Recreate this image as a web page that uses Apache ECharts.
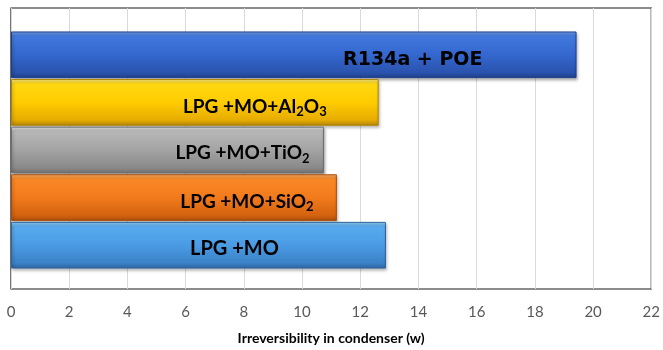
<!DOCTYPE html>
<html>
<head>
<meta charset="utf-8">
<script src="https://cdn.jsdelivr.net/npm/echarts@6/dist/echarts.min.js"></script>
<style>html,body{margin:0;padding:0;background:#fff}#c{width:663px;height:350px}</style>
</head>
<body>
<div id="c"></div>
<script>
// Data
const categories = ['R134a + POE', 'LPG +MO+Al{sub|2}O{sub|3}', 'LPG +MO+TiO{sub|2}', 'LPG +MO+SiO{sub|2}', 'LPG +MO'];
const values = [19.35, 12.58, 10.71, 11.15, 12.83];
const xTicks = { min: 0, max: 22, interval: 2 };
const axisTitle = 'Irreversibility in condenser (w)';

// Styles (not data)
const palettes = [
  ['#7aa4f2', '#4279de', '#3467cf', '#2a53ad', '#1e3f88'],
  ['#fff28a', '#ffd810', '#ffcc00', '#e6ac00', '#b08400'],
  ['#ececec', '#b8b8b8', '#a3a3a3', '#8a8a8a', '#6e6e6e'],
  ['#ffb56a', '#fa8826', '#f27a1b', '#d4630f', '#a84d0a'],
  ['#9ad6fa', '#58abee', '#4a9be4', '#3b82c8', '#2d659e']
];
const labelShift = [[119, 5], [60, 4], [75, 3], [73, 4], [36, 3]];
const labelFonts = [
  { fontFamily: 'DejaVu Sans', fontSize: 19 },
  { fontFamily: 'Lato', fontSize: 19 },
  { fontFamily: 'Lato', fontSize: 19 },
  { fontFamily: 'Lato', fontSize: 19 },
  { fontFamily: 'Lato', fontSize: 20 }
];

const chart = echarts.init(document.getElementById('c'), null, { renderer: 'canvas' });

const seriesData = values.map((v, i) => {
  const p = palettes[i];
  return {
    value: v,
    itemStyle: {
      color: new echarts.graphic.LinearGradient(0, 0, 0, 1, [
        { offset: 0, color: p[0] },
        { offset: 0.1, color: p[1] },
        { offset: 0.5, color: p[2] },
        { offset: 0.88, color: p[3] },
        { offset: 1, color: p[4] }
      ]),
      borderColor: p[4],
      borderWidth: 1,
      shadowColor: 'rgba(0,0,0,0.35)',
      shadowBlur: 3,
      shadowOffsetX: 1,
      shadowOffsetY: 2
    },
    label: {
      show: true,
      position: 'inside',
      offset: labelShift[i],
      formatter: categories[i],
      color: '#000',
      fontWeight: 'bold',
      fontFamily: labelFonts[i].fontFamily,
      fontSize: labelFonts[i].fontSize,
      lineHeight: 24,
      rich: {
        sub: {
          fontFamily: 'Lato',
          fontWeight: 'bold',
          fontSize: 13,
          lineHeight: 24,
          verticalAlign: 'bottom',
          color: '#000'
        }
      }
    }
  };
});

chart.setOption({
  animation: false,
  backgroundColor: '#fff',
  grid: [
    { left: 11, right: 9, top: 8, bottom: 58, show: true, borderColor: '#1a1a1a', borderWidth: 1.2, backgroundColor: 'transparent', z: 0 },
    { left: 11, right: 9, top: 31, bottom: 81 }
  ],
  xAxis: [
    {
      gridIndex: 0, type: 'value', min: xTicks.min, max: xTicks.max, interval: xTicks.interval,
      axisLine: { show: false }, axisTick: { show: false },
      splitLine: { show: true, lineStyle: { color: '#d9d9d9', width: 1 } },
      axisLabel: { color: '#595959', fontFamily: 'Lato', fontSize: 15, margin: 16 },
      name: axisTitle, nameLocation: 'middle', nameGap: 42,
      nameTextStyle: { color: '#000', fontFamily: 'Lato', fontWeight: 'bold', fontSize: 14 }
    },
    {
      gridIndex: 1, type: 'value', min: xTicks.min, max: xTicks.max, interval: xTicks.interval,
      show: false
    }
  ],
  yAxis: [
    { gridIndex: 0, type: 'value', show: false, splitLine: { show: false } },
    {
      gridIndex: 1, type: 'category', data: categories, inverse: true, show: false,
      axisLine: { show: false }, axisTick: { show: false }, axisLabel: { show: false }
    }
  ],
  series: [
    {
      type: 'bar', xAxisIndex: 1, yAxisIndex: 1,
      barCategoryGap: '2%',
      data: seriesData
    }
  ]
});
</script>
</body>
</html>
